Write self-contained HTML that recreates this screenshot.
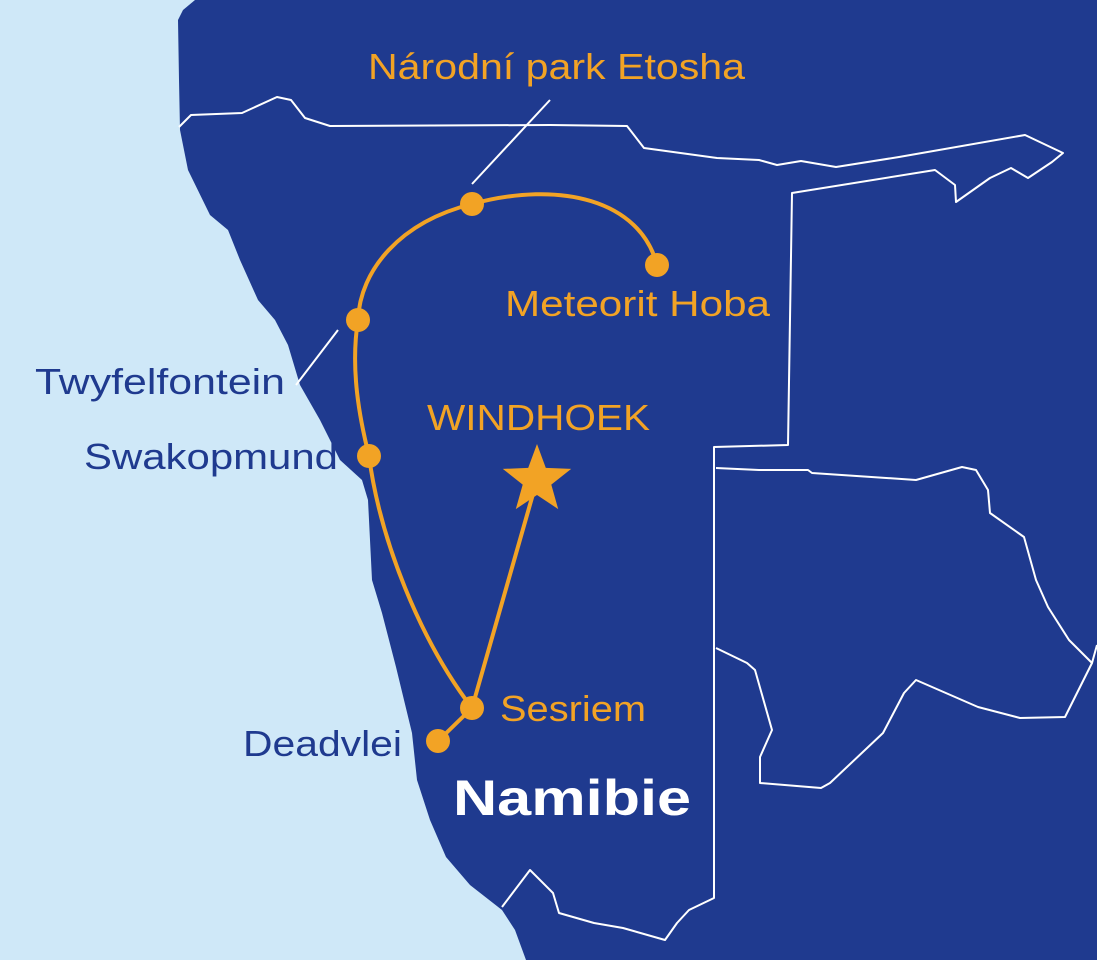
<!DOCTYPE html>
<html><head><meta charset="utf-8"><style>
html,body{margin:0;padding:0;background:#cfe8f8;}
svg{display:block;}
text{font-family:"Liberation Sans",sans-serif;}
</style></head><body>
<svg width="1097" height="960" viewBox="0 0 1097 960" xmlns="http://www.w3.org/2000/svg">
<rect width="1097" height="960" fill="#cfe8f8"/>
<path d="M195,0 L183,10 L178,20 L179,80 L180,130 L188,170 L210,215 L228,230 L240,260 L258,300 L275,320 L288,345 L300,385 L320,420 L340,460 L362,480 L368,500 L370,540 L372,580 L382,613 L396,667 L412,733 L417,780 L430,820 L446,857 L470,885 L502,910 L515,930 L526,960 L1097,960 L1097,0 Z" fill="#1f3a8f"/>
<g fill="none" stroke="#ffffff" stroke-width="2" stroke-linejoin="round">
<path d="M179,127 L191,115 L242,113 L277,97 L291,100 L305,118 L330,126 L550,125 L627,126 L644,148 L717,158 L759,160 L777,165 L801,161 L836,167 L899,157 L1025,135 L1063,153 L1052,162 L1028,178 L1011,168 L990,178 L956,202 L955,185 L935,170 L792,193 L788,445 L714,447 L714,898 L689,910 L677,923 L665,940 L623,928 L594,923 L559,913 L553,893 L530,870 L502,907"/>
<path d="M716,468 L759,470 L808,470 L812,473 L916,480 L962,467 L976,470 L988,490 L990,513 L1024,537 L1036,580 L1048,607 L1069,640 L1092,663 L1097,645"/>
<path d="M1092,663 L1065,717 L1020,718 L978,707 L916,680 L904,693 L883,733 L830,783 L821,788 L760,783 L760,757 L772,730 L755,670 L747,663 L716,648"/>
<path d="M550,100 L472,184"/>
<path d="M338,330 L296,385"/>
</g>
<g fill="none" stroke="#f2a325" stroke-width="4" stroke-linecap="round">
<path d="M657,265 C640,200 560,180 472,204 C400,222 360,270 358,320 C350,370 360,420 369,456 C380,540 420,640 472,708 L537,480"/>
<path d="M472,708 L438,741"/>
</g>
<g fill="#f2a325">
<circle cx="472" cy="204" r="12"/>
<circle cx="657" cy="265" r="12"/>
<circle cx="358" cy="320" r="12"/>
<circle cx="369" cy="456" r="12"/>
<circle cx="472" cy="708" r="12"/>
<circle cx="438" cy="741" r="12"/>
<polygon points="537,444 545.8,467.9 571.2,468.9 551.3,484.6 558.2,509.1 537,495 515.8,509.1 522.7,484.6 502.8,468.9 528.2,467.9"/>
</g>
<g font-size="36">
<text x="368" y="79" fill="#f2a325" textLength="377" lengthAdjust="spacingAndGlyphs">Národní park Etosha</text>
<text x="505" y="316" fill="#f2a325" textLength="265" lengthAdjust="spacingAndGlyphs">Meteorit Hoba</text>
<text x="427" y="430" fill="#f2a325" textLength="223" lengthAdjust="spacingAndGlyphs">WINDHOEK</text>
<text x="500" y="721" fill="#f2a325" textLength="146" lengthAdjust="spacingAndGlyphs">Sesriem</text>
<text x="35" y="394" fill="#1f3a8f" textLength="250" lengthAdjust="spacingAndGlyphs">Twyfelfontein</text>
<text x="84" y="469" fill="#1f3a8f" textLength="254" lengthAdjust="spacingAndGlyphs">Swakopmund</text>
<text x="243" y="756" fill="#1f3a8f" textLength="159" lengthAdjust="spacingAndGlyphs">Deadvlei</text>
</g>
<text x="453" y="815" fill="#ffffff" font-size="50" font-weight="bold" textLength="238" lengthAdjust="spacingAndGlyphs">Namibie</text>
</svg>
</body></html>
